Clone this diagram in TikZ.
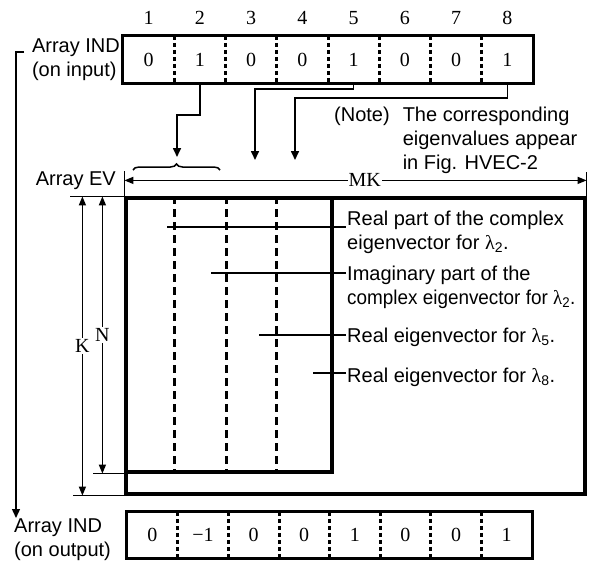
\documentclass[tikz,border=0pt]{standalone}
\usepackage{fontspec}
\setmainfont{Liberation Serif}
\newfontfamily\arialfont{Liberation Sans}
\usetikzlibrary{arrows.meta,calc,positioning,decorations.pathreplacing}
\newcommand{\lamsub}[1]{{\rmfamily λ}\textsubscript{#1}}

\begin{document}
\begin{tikzpicture}[x=1pt, y=-1pt,
    cell/.style={minimum width=51.25pt, minimum height=47pt, inner sep=0pt, font=\fontsize{20}{24}\selectfont},
    cellout/.style={cell, minimum width=50.625pt, minimum height=46pt},
    colnum/.style={inner sep=0pt, font=\fontsize{20}{24}\selectfont},
    arrbox/.style={line width=3.2pt},
    arrdiv/.style={line width=3pt, dash pattern=on 4pt off 3pt},
    evbox/.style={draw, line width=3.2pt, inner sep=0pt},
    evdiv/.style={line width=3.4pt, dash pattern=on 8pt off 5pt},
    lbl/.style={font=\arialfont\fontsize{20}{24}\selectfont, align=left, inner sep=1pt},
    conn/.style={line width=1.6pt, -{Triangle[length=9pt,width=8pt]}},
    dim/.style={line width=1.4pt, {Triangle[length=9pt,width=7pt]}-{Triangle[length=9pt,width=7pt]}},
    leader/.style={line width=1.1pt}
  ]
  \useasboundingbox (0,0) rectangle (589,565);

  % Array IND (on input)
  \foreach \v [count=\i] in {0,1,0,0,1,0,0,1} {
    \node[cell] (in\i) at ({123+51.25*(\i-0.5)},59.5) {\v};
    \node[colnum, above=11pt of in\i] (num\i) {\i};
  }
  \draw[arrbox] (in1.north west) rectangle (in8.south east);
  \foreach \i in {1,...,7}
    \draw[arrdiv] (in\i.north east) -- (in\i.south east);
  \node[lbl, anchor=east] (indin) at (121,60) {Array IND\\(on input)};

  % Array IND (on output)
  \foreach \v [count=\i] in {0,−1,0,0,1,0,0,1}
    \node[cellout] (out\i) at ({127+50.625*(\i-0.5)},535) {\v};
  \draw[arrbox] (out1.north west) rectangle (out8.south east);
  \foreach \i in {1,...,7}
    \draw[arrdiv] (out\i.north east) -- (out\i.south east);
  \node[lbl, anchor=west] (indout) at (13,540) {Array IND\\(on output)};

  % input to output
  \coordinate (bk) at (24,52);
  \coordinate (bkend) at (16,518);
  \draw[conn, line width=1.4pt] (bk) -- (bk -| bkend) -- (bkend);

  % Array EV
  \node[evbox, minimum width=459pt, minimum height=296pt] (ev) at (355.5,346) {};
  \node[evbox, minimum width=206pt, minimum height=274pt] (evin) at (229,335) {};
  \foreach \dx in {50,102,152}
    \draw[evdiv] ([xshift=\dx]evin.north west) -- ([xshift=\dx]evin.south west);
  \node[lbl, anchor=east] (evlab) at (117,181) {Array EV};

  % MK
  \draw[leader, line width=1.4pt] (ev.north west) -- ++(0,-25);
  \draw[leader, line width=1.4pt] (ev.north east) -- ++(0,-24);
  \draw[dim] ([yshift=16pt]ev.north west) -- ([yshift=16pt]ev.north east)
    node[pos=.52, fill=white, inner sep=1pt, font=\fontsize{20}{24}\selectfont] (mk) {MK};

  % K and N
  \draw[leader, line width=1.4pt] (ev.north west) -- ++(-54,0);
  \draw[leader, line width=1.4pt] (evin.south west) -- ++(-31,0);
  \draw[leader, line width=1.4pt] (ev.south west) -- ++(-51,0);
  \draw[dim] ([xshift=-42pt]ev.north west) -- ([xshift=-42pt]ev.south west)
    node[midway, fill=white, inner sep=1pt, font=\fontsize{20}{24}\selectfont] (klab) {K};
  \draw[dim] ([xshift=-22pt]evin.north west) -- ([xshift=-22pt]evin.south west)
    node[midway, fill=white, inner sep=1pt, font=\fontsize{20}{24}\selectfont] (nlab) {N};

  % pointers from IND to the columns
  \coordinate (t2) at (177,157);
  \coordinate (t5) at (255,160);
  \coordinate (t8) at (295,160);
  \draw[conn] (in2.south) -- ++(0,32) -| (t2);
  \draw[conn] (in5.south) -- ++(0,6) -| (t5);
  \draw[conn] (in8.south) -- ++(0,15) -| (t8);
  \draw[leader, line width=1.5pt, decorate, decoration={brace, amplitude=6pt}] (133,170) -- (220,170);

  % note
  \node[lbl, anchor=west] (note) at (333,141) {\begin{tabular}{@{}l@{\hspace{13pt}}l@{}}
    (Note) & The corresponding\\
           & eigenvalues appear\\
           & in Fig. HVEC-2
  \end{tabular}};

  % column labels
  \node[lbl, anchor=west] (lab1) at (346,232) {Real part of the complex\\eigenvector for \lamsub{2}.};
  \node[lbl, anchor=west] (lab2) at (346,287) {Imaginary part of the\\\scalebox{0.945}[1]{complex eigenvector for \lamsub{2}.}};
  \node[lbl, anchor=west] (lab3) at (346,337) {Real eigenvector for \lamsub{5}.};
  \node[lbl, anchor=west] (lab4) at (346,377) {Real eigenvector for \lamsub{8}.};
  \coordinate (r1) at (167,227);
  \coordinate (r2) at (211,273);
  \coordinate (r3) at (259,335);
  \coordinate (r4) at (313,373);
  \foreach \i in {1,...,4}
    \draw[leader] (r\i) -- (r\i -| lab\i.west);
\end{tikzpicture}
\end{document}
